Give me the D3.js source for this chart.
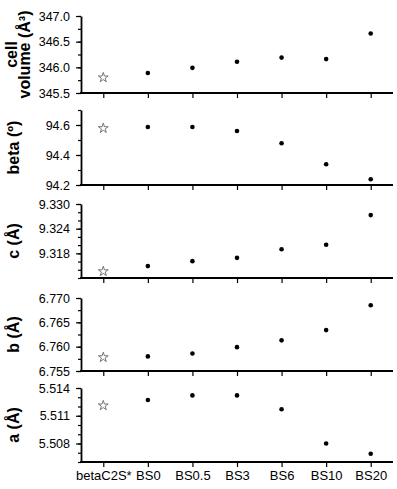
<!DOCTYPE html>
<html>
<head>
<meta charset="utf-8">
<script src="https://d3js.org/d3.v7.min.js"></script>
<style>
  body { margin: 0; background: #fff; }
  .axis path, .axis line { stroke: #000; }
  .axis path { stroke-width: 1.8px; }
  .axis line { stroke-width: 1.2px; }
  .axis text { font-family: Arial, "Liberation Sans", sans-serif; fill: #000; }
  .title { font-family: Arial, "Liberation Sans", sans-serif; font-weight: bold; font-size: 16px; }
</style>
</head>
<body>
<script>

// categories along x
var categories = ["betaC2S*", "BS0", "BS0.5", "BS3", "BS6", "BS10", "BS20"];

// series values
var volume = [345.80, 345.89, 345.99, 346.11, 346.19, 346.16, 346.66];
var beta   = [94.578, 94.587, 94.587, 94.560, 94.478, 94.338, 94.238];
var cLen   = [9.3136, 9.3149, 9.3161, 9.3169, 9.3190, 9.3201, 9.3273];
var bLen   = [6.7578, 6.7580, 6.7586, 6.7599, 6.7613, 6.7634, 6.7685];
var aLen   = [5.5121, 5.5127, 5.5132, 5.5132, 5.5117, 5.5080, 5.5069];

// tick labels
var volumeTicks = [345.5, 346.0, 346.5, 347.0];
var betaTicks   = [94.2, 94.4, 94.6];
var cTicks      = [9.318, 9.324, 9.330];
var bTicks      = [6.755, 6.760, 6.765, 6.770];
var aTicks      = [5.508, 5.511, 5.514];

var width = 397, height = 489;

var svg = d3.select("body").append("svg")
    .attr("width", width)
    .attr("height", height);

var x = d3.scalePoint()
    .domain(categories)
    .range([81, 393])
    .padding(0.5);

// one entry per panel, top to bottom
var panels = [
  { values: volume, ticks: volumeTicks, domain: [345.5, 347.0], minor: 0.25, fmt: ".1f", top: 16, bottom: 93, title: ["cell", "volume (Å³)"] },
  { values: beta, ticks: betaTicks, domain: [94.2, 94.7], minor: 0.1, fmt: ".1f", top: 110, bottom: 185, title: ["beta (º)"] },
  { values: cLen, ticks: cTicks, domain: [9.312, 9.330], minor: 0.002, fmt: ".3f", top: 204, bottom: 278, title: ["c (Å)"] },
  { values: bLen, ticks: bTicks, domain: [6.755, 6.770], minor: 0.0025, fmt: ".3f", top: 298, bottom: 371, title: ["b (Å)"] },
  { values: aLen, ticks: aTicks, domain: [5.506, 5.514], minor: 0.001, fmt: ".3f", top: 388, bottom: 462, title: ["a (Å)"] }
];

var star = d3.symbol().type(d3.symbolStar).size(30);

panels.forEach(function(p, i) {
  var y = d3.scaleLinear()
      .domain(p.domain)
      .range([p.bottom, p.top]);

  // minor ticks
  var minorTicks = d3.range(Math.round((p.domain[1] - p.domain[0]) / p.minor) + 1)
      .map(function(k) { return p.domain[0] + k * p.minor; });

  svg.append("g")
      .attr("class", "axis")
      .attr("transform", "translate(81,0)")
      .call(d3.axisLeft(y).tickValues(minorTicks).tickSize(3).tickFormat(""))
      .select(".domain").remove();

  var yAxis = svg.append("g")
      .attr("class", "axis")
      .attr("transform", "translate(81,0)")
      .call(d3.axisLeft(y)
        .tickValues(p.ticks)
        .tickSize(5)
        .tickSizeOuter(0)
        .tickPadding(6)
        .tickFormat(d3.format(p.fmt)));
  yAxis.selectAll("text").style("font-size", "12.5px");

  var xAxis = svg.append("g")
      .attr("class", "axis")
      .attr("transform", "translate(0," + p.bottom + ")")
      .call(d3.axisBottom(x).tickSize(5).tickSizeOuter(0).tickPadding(4));
  xAxis.select(".domain").attr("d", "M80,0H393");
  if (i < panels.length - 1) xAxis.selectAll("text").remove();
  else xAxis.selectAll("text").style("font-size", "13px");

  // title, rotated
  var cy = (p.top + p.bottom) / 2;
  var t = svg.append("text")
      .attr("class", "title")
      .attr("transform", "translate(" + (p.title.length > 1 ? 17 : 19) + "," + cy + ") rotate(-90)")
      .attr("text-anchor", "middle");
  p.title.forEach(function(line, j) {
    t.append("tspan")
        .attr("x", 0)
        .attr("dy", j === 0 ? 0 : 13)
        .text(line);
  });

  // reference point (star), then the samples
  svg.append("path")
      .attr("d", star)
      .attr("transform", "translate(" + x(categories[0]) + "," + y(p.values[0]) + ")")
      .attr("fill", "none")
      .attr("stroke", "#666")
      .attr("stroke-width", 0.9);

  svg.selectAll(".dot" + i)
      .data(p.values.slice(1))
    .enter().append("circle")
      .attr("class", "dot" + i)
      .attr("r", 2.3)
      .attr("cx", function(d, k) { return x(categories[k + 1]); })
      .attr("cy", function(d) { return y(d); })
      .style("fill", "#000");
});

</script>
</body>
</html>
